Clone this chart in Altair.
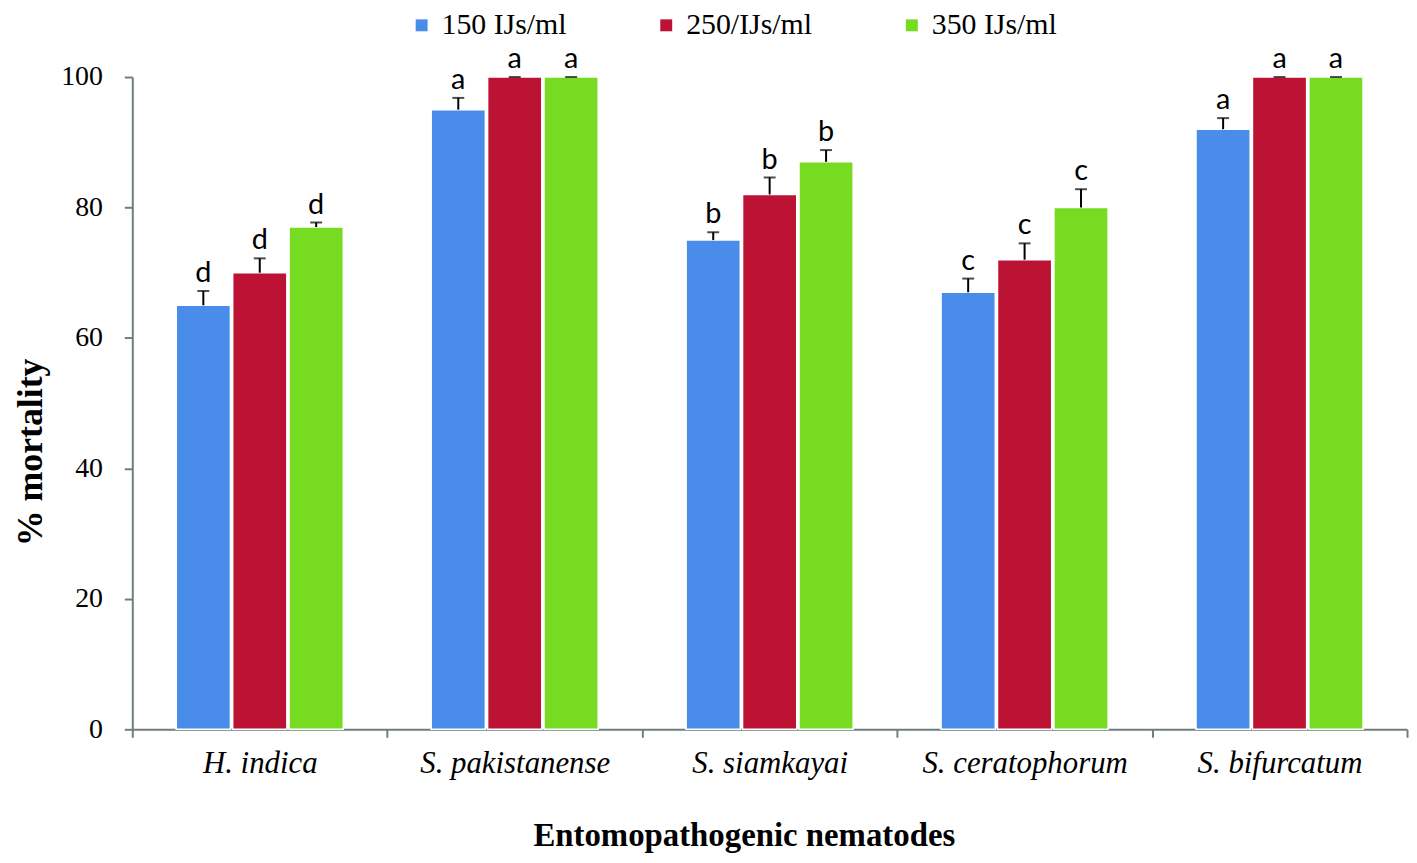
import altair as alt
import pandas as pd

species = ["H. indica", "S. pakistanense", "S. siamkayai", "S. ceratophorum", "S. bifurcatum"]
doses = ["150 IJs/ml", "250/IJs/ml", "350 IJs/ml"]
colors = ["#4A8CEA", "#BC1234", "#77DB22"]

m150 = [65, 95, 75, 67, 92]
m250 = [70, 100, 82, 72, 100]
m350 = [77, 100, 87, 80, 100]

e150 = [2.2, 1.8, 1.2, 2.1, 1.7]
e250 = [2.2, 0.0, 2.6, 2.5, 0.0]
e350 = [0.7, 0.0, 1.8, 2.8, 0.0]

letters = ["d", "a", "b", "c", "a"]

rows = []
for i, sp in enumerate(species):
    for d, m, e in zip(doses, [m150[i], m250[i], m350[i]], [e150[i], e250[i], e350[i]]):
        rows.append(dict(species=sp, dose=d, mortality=m, err=e, top=m + e, letter=letters[i]))
df = pd.DataFrame(rows)

axis_gray = "#6E7E7E"

x_enc = alt.X(
    "species:N",
    sort=species,
    scale=alt.Scale(paddingInner=0, paddingOuter=0),
    axis=alt.Axis(
        title="Entomopathogenic nematodes",
        titleFont="Liberation Serif",
        titleFontSize=33,
        titleFontWeight="bold",
        titleColor="black",
        titleX=615,
        titleY=117,
        titleBaseline="alphabetic",
        labelFont="Liberation Serif",
        labelFontStyle="italic",
        labelFontSize=31,
        labelColor="black",
        labelPadding=11,
        labelAngle=0,
        labelLimit=0,
        tickBand="extent",
        tickSize=8,
        tickWidth=2,
        tickColor=axis_gray,
        domainColor=axis_gray,
        domainWidth=2,
        grid=False,
    ),
)
x_plain = alt.X("species:N", sort=species)
xo = alt.XOffset("dose:N", sort=doses, scale=alt.Scale(paddingInner=0.04, paddingOuter=0.779))

y_enc = alt.Y(
    "mortality:Q",
    scale=alt.Scale(domain=[0, 100], nice=False),
    axis=alt.Axis(
        values=[0, 20, 40, 60, 80, 100],
        title="% mortality",
        titleFont="Liberation Serif",
        titleFontSize=36,
        titleFontWeight="bold",
        titleColor="black",
        titleAngle=270,
        titleX=-91,
        titleY=377,
        titleAlign="center",
        titleBaseline="alphabetic",
        labelFont="Liberation Serif",
        labelFontSize=28,
        labelColor="black",
        labelPadding=22,
        tickSize=8,
        tickWidth=2,
        tickColor=axis_gray,
        domainColor=axis_gray,
        domainWidth=2,
        grid=False,
    ),
)

base = alt.Chart(df)

bars = base.mark_bar(stroke="white", strokeWidth=1.5).encode(
    x=x_enc,
    xOffset=xo,
    y=y_enc,
    color=alt.Color(
        "dose:N",
        sort=doses,
        scale=alt.Scale(domain=doses, range=colors),
        legend=alt.Legend(
            title=None,
            orient="none",
            legendX=276,
            legendY=-67,
            direction="horizontal",
            symbolType="square",
            symbolSize=144,
            symbolStrokeWidth=0,
            labelFont="Liberation Serif",
            labelFontSize=30,
            labelColor="black",
            labelOffset=5,
            labelLimit=0,
            columnPadding=85,
            padding=0,
        ),
    ),
)

rules = base.mark_rule(color="black", strokeWidth=2).encode(
    x=x_plain, xOffset=xo, y="mortality:Q", y2="top:Q"
)

caps = base.mark_tick(color="black", thickness=2, size=12).encode(
    x=x_plain, xOffset=xo, y="top:Q"
)

labels = base.mark_text(
    font="Lato", fontSize=29, color="black", dy=-9, baseline="alphabetic"
).encode(x=x_plain, xOffset=xo, y="top:Q", text="letter:N")

chart = (
    alt.layer(bars, rules, caps, labels)
    .properties(
        width=1282,
        height=656,
        autosize=alt.AutoSizeParams(type="none"),
        padding={"left": 125, "top": 67, "right": 2, "bottom": 124},
    )
    .configure_view(stroke=None)
    .configure_axis(grid=False)
)

chart.save("out.html", embed_options={"renderer": "svg", "actions": False})
